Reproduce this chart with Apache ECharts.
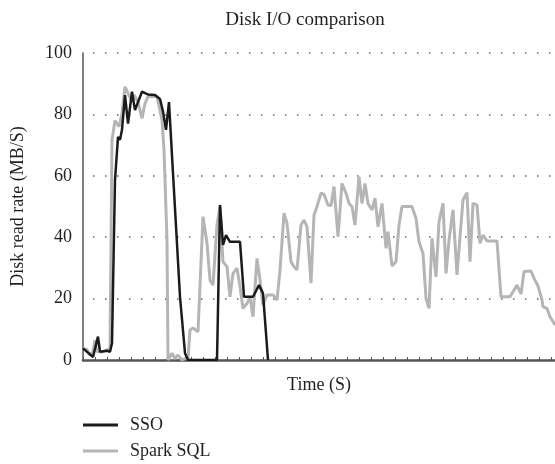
<!DOCTYPE html>
<html><head><meta charset="utf-8">
<script src="https://cdn.jsdelivr.net/npm/echarts@6/dist/echarts.min.js"></script>
<style>html,body{margin:0;padding:0;background:#fff}#c{width:555px;height:464px}</style>
</head><body><div id="c"></div>
<script>
const titleText = "Disk I/O comparison";
const yAxisName = "Disk read rate (MB/S)";
const xAxisName = "Time (S)";
const seriesNames = ["SSO", "Spark SQL"];
const yTicks = [0, 20, 40, 60, 80, 100];

const ssoTime = [0,10,15,17,24,27,29,32,35,37,39,42,45,49,52,55,59,62,65,72,77,80,83,86,90,97,102,105,134,137,140,143,147,157,161,170,176,180,185];
const ssoRate = [3.8,1,7.6,2.7,3,2.7,5.5,58.6,72.7,71.7,75,86.3,77,87.4,81.4,84,87.4,86.9,86.5,86.3,85,80.9,75,84,60.8,20.6,2.2,0,0,50.5,37.5,40.7,38.5,38.5,20.6,20.6,24.4,21.7,0];

const sparkTime = [0,4,7,10,12,14,20,24,27,29,32,36,39,42,45,49,51,55,59,62,65,74,76,79,81,84,85,89,92,95,99,102,105,107,110,115,120,124,127,130,134,137,140,144,147,150,154,157,160,164,167,170,174,177,180,184,190,194,197,201,204,208,211,214,218,221,224,228,231,234,238,241,245,248,251,255,259,263,266,269,272,276,279,282,285,289,292,295,299,303,305,309,313,316,319,329,333,336,340,343,346,349,353,356,360,363,366,370,374,377,380,384,387,390,394,397,400,404,414,418,427,434,438,441,448,451,455,459,460,464,467,472];
const sparkRate = [3.9,3.3,1.6,2.7,6.5,2.7,2.7,3.3,3.3,71.7,78,76,80.3,89,86.9,84.1,86.3,84.1,78.7,83.6,85.8,85.8,86.3,78.2,68.4,39,0,2.2,0.5,1.6,0,0.5,0.5,9.8,10.4,9.2,46.7,38,26,24.4,44,50,32,30.4,20.6,28.2,29.9,23.9,16.8,18.4,20.6,14.1,33.1,26,17.9,21.2,21.2,19.5,29.3,47.8,44.5,32,30.4,29.3,44,45.6,43.4,25,47.2,50,54.3,54,50.5,50.3,56.5,40.2,57.5,54.3,51,50,44,59.7,51,57.5,51,48.9,52.7,43.4,51,36.4,41.8,30.6,32,44,50,50,46.1,38.5,34.7,20.1,16.8,39.6,27.1,45,51,28.2,39,48.9,27.7,40.2,52.1,54.5,32,51,50.5,38,40.7,38.8,38.8,20.6,20.6,24.4,21.5,28.8,29,26.6,24.1,19.5,17.4,16.8,14.1,11.4];

const zip = (a, b) => a.map((t, i) => [t, b[i]]);
const font = "'Liberation Serif', 'DejaVu Serif', serif";
const txt = '#231f20';
const fs = 18;

const chart = echarts.init(document.getElementById('c'), null, {renderer: 'canvas'});
chart.setOption({
  animation: false,
  backgroundColor: '#fff',
  title: {
    text: titleText, left: 305, top: 11, textAlign: 'center', padding: 0,
    textStyle: {fontFamily: font, fontSize: 19, fontWeight: 'normal', color: txt}
  },
  grid: {left: 83, right: 0, top: 53, bottom: 104, containLabel: false},
  legend: {
    orient: 'vertical', left: 83, top: 416, itemGap: 8, padding: 0,
    itemWidth: 35, itemHeight: 3, icon: 'rect',
    textStyle: {fontFamily: font, fontSize: fs, color: txt, padding: [0, 0, 0, 7]},
    data: seriesNames
  },
  xAxis: {
    type: 'value', min: 0, max: 472, interval: 12,
    name: xAxisName, nameLocation: 'middle', nameGap: 16,
    nameTextStyle: {fontFamily: font, fontSize: fs, color: txt},
    axisLine: {show: true, onZero: false, lineStyle: {color: '#555', width: 2.5}},
    axisTick: {show: true, inside: true, length: 3, lineStyle: {color: '#555', width: 1}},
    axisLabel: {show: false},
    splitLine: {show: false}
  },
  yAxis: {
    type: 'value', min: 0, max: 100, interval: 20,
    name: yAxisName, nameLocation: 'middle', nameGap: 56, nameRotate: 90,
    nameTextStyle: {fontFamily: font, fontSize: fs, color: txt},
    axisLine: {show: true, lineStyle: {color: '#555', width: 1.5}},
    axisTick: {show: false},
    axisLabel: {fontFamily: font, fontSize: fs, color: txt, margin: 11,
      formatter: v => yTicks.includes(v) ? String(v) : ''},
    splitLine: {show: true, lineStyle: {color: '#888', width: 2, type: [1.5, 10.5], dashOffset: -10}}
  },
  series: [
    {name: seriesNames[1], type: 'line', data: zip(sparkTime, sparkRate), showSymbol: false, symbol: 'none',
      lineStyle: {color: '#b5b5b7', width: 3}, itemStyle: {color: '#b5b5b7'}, z: 2},
    {name: seriesNames[0], type: 'line', data: zip(ssoTime, ssoRate), showSymbol: false, symbol: 'none',
      lineStyle: {color: '#1b1b1b', width: 2.5}, itemStyle: {color: '#1b1b1b'}, z: 3}
  ]
});
</script></body></html>
